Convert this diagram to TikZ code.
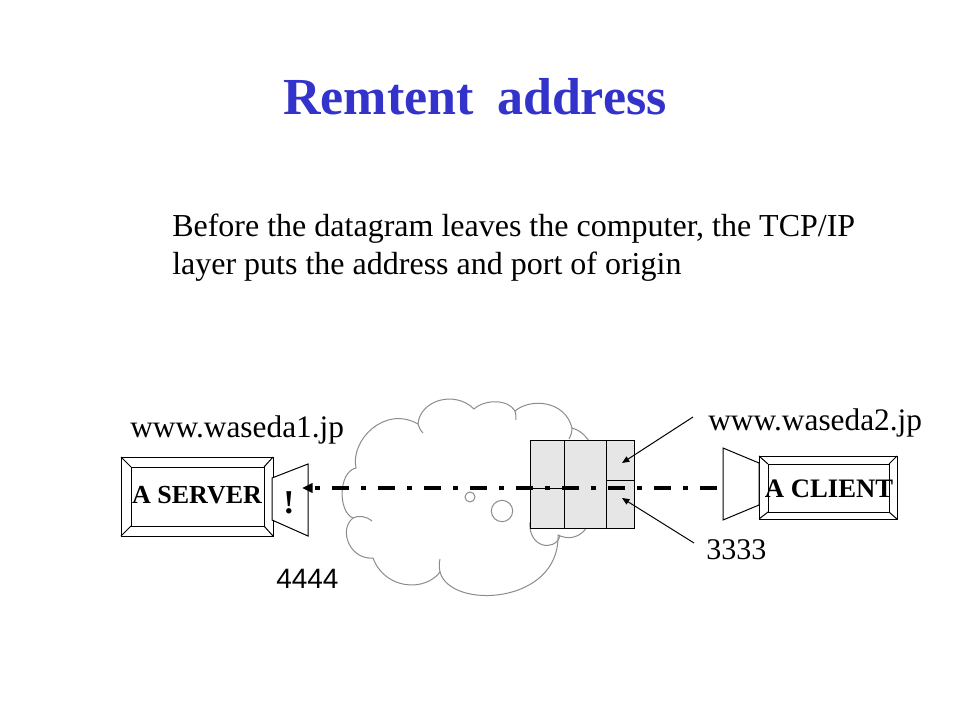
\documentclass[tikz,border=0pt]{standalone}
\usepackage{fontspec}
\setmainfont{Liberation Serif}
\newfontfamily\arialfont{Liberation Sans}
\usetikzlibrary{arrows.meta}
\definecolor{titleblue}{RGB}{51,51,204}
\definecolor{cloudgray}{RGB}{140,140,140}
\definecolor{packetgray}{RGB}{230,230,230}
\begin{document}
\begin{tikzpicture}[x=0.75pt,y=-0.75pt,
  thinline/.style={draw=black,line width=0.75pt},
  boxfill/.style={thinline,fill=white},
  cloudline/.style={draw=cloudgray,line width=0.75pt},
  bodytext/.style={anchor=base west,inner sep=0pt,font=\fontsize{24}{28}\selectfont},
  labeltext/.style={anchor=base west,inner sep=0pt,font=\fontsize{23.5}{28}\selectfont},
  monitortext/.style={anchor=base,inner sep=0pt,font=\fontsize{19.5}{22}\bfseries\selectfont},
  pointer/.style={thinline,-{Triangle[length=5.5pt,width=4.5pt]}},
  flow/.style={line width=3pt,dash pattern=on 12.75pt off 9pt on 3.75pt off 9pt,-{Triangle[length=8pt,width=7pt]}}
]
\useasboundingbox[fill=white] (0,0) rectangle (960,720);

% title and text
\node[anchor=base,inner sep=0pt,text=titleblue,font=\fontsize{39}{44}\bfseries\selectfont] (title) at (475,115) {Remtent\hspace{0.45em}address};
\node[bodytext] (body1) at (172,237) {Before the datagram leaves the computer, the TCP/IP};
\node[bodytext] (body2) at (172,275) {layer puts the address and port of origin};

% cloud
\draw[cloudline,fill=white]
  (353,518) .. controls (338,512) and (338,472) .. (356,468)
  .. controls (350,440) and (385,405) .. (418,424)
  .. controls (420,400) and (455,390) .. (474,409)
  .. controls (485,399) and (508,399) .. (515,411)
  .. controls (530,398) and (565,400) .. (572,428)
  .. controls (598,435) and (605,480) .. (588,500)
  .. controls (598,525) and (578,545) .. (558,535)
  .. controls (560,605) and (450,610) .. (440,572)
  .. controls (425,592) and (385,590) .. (373,558)
  .. controls (350,560) and (338,530) .. (353,518) -- cycle;
% inner curls of the cloud
\draw[cloudline] (353,518) .. controls (358,515) and (366,516) .. (372,521);
\draw[cloudline] (418,424) .. controls (419,427) and (420,430) .. (423,433);
\draw[cloudline] (515,411) .. controls (516,414) and (516,417) .. (516,420);
\draw[cloudline] (572,428) .. controls (572,432) and (571,435) .. (569,439);
\draw[cloudline] (440,572) .. controls (439,567) and (439,563) .. (440,559);
\draw[cloudline] (530,522) .. controls (528,548) and (555,552) .. (560,536);
\node[circle,cloudline,fill=white,minimum size=7.5pt,inner sep=0pt] (bub1) at (470,497) {};
\node[circle,cloudline,fill=white,minimum size=16pt,inner sep=0pt] (bub2) at (502,511) {};

% packet
\node[thinline,fill=packetgray,minimum width=78pt,minimum height=66pt,inner sep=0pt] (packet) at (582,484) {};
\draw[thinline] (564,440) -- (564,528);
\draw[thinline] (606,440) -- (606,528);
\draw[thinline] (606,480) -- (634,480);
\draw[thinline] (530,488) -- (564,488);

% server
\draw[boxfill] (121,457) rectangle (273,536);
\draw[thinline] (131,467) rectangle (264,526);
\draw[thinline] (121,457) -- (131,467) (273,457) -- (264,467) (121,536) -- (131,526) (273,536) -- (264,526);
\node[monitortext] (server) at (197,503) {A SERVER};
\draw[boxfill] (272,478) -- (308,464) -- (308,536) -- (272,520) -- cycle;
\node[anchor=base,inner sep=0pt,font=\fontsize{25}{28}\bfseries\selectfont] (bang) at (289,513) {!};

% client
\draw[boxfill] (759,456) rectangle (897,519);
\draw[thinline] (768,464) rectangle (889,512);
\draw[thinline] (759,456) -- (768,464) (897,456) -- (889,464) (759,519) -- (768,512) (897,519) -- (889,512);
\node[monitortext,font=\fontsize{20}{22}\bfseries\selectfont] (client) at (829,497) {A CLIENT};
\draw[boxfill] (759,463) -- (723,448) -- (723,520) -- (759,505) -- cycle;

% labels
\node[labeltext] (host1) at (130,437) {www.waseda1.jp};
\node[labeltext] (host2) at (708,430) {www.waseda2.jp};
\node[anchor=base west,inner sep=0pt,font=\arialfont\fontsize{21}{24}\selectfont] (port1) at (276,588) {4444};
\node[anchor=base west,inner sep=0pt,font=\fontsize{22.5}{26}\selectfont] (port2) at (706,559) {3333};

% connectors
\coordinate (clientout) at (717,488);
\coordinate (servertip) at (302,488);
\draw[flow] (clientout) -- (servertip);
\coordinate (addrfrom) at (693,417);
\coordinate (addrto) at (622,463);
\coordinate (portfrom) at (694,543);
\coordinate (portto) at (622,498);
\draw[pointer] (addrfrom) -- (addrto);
\draw[pointer] (portfrom) -- (portto);
\end{tikzpicture}
\end{document}
